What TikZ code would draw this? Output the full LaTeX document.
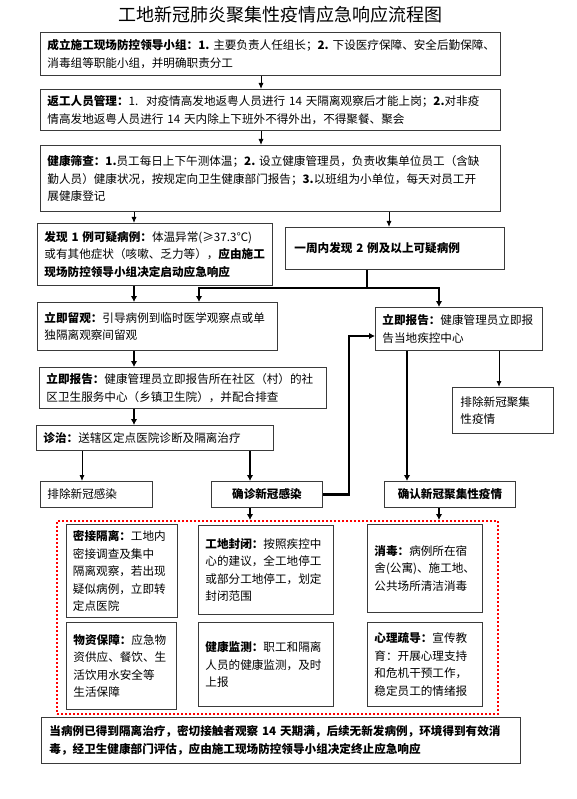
\documentclass[tikz,border=0pt]{standalone}
\usepackage{fontspec}
\setmainfont{Noto Sans CJK SC}
\usetikzlibrary{arrows.meta}
\definecolor{bordc}{HTML}{3A3A3A}
\tikzset{
  boxst/.style={draw=bordc,line width=0.9pt,inner xsep=7pt,inner ysep=2pt,align=left,
    font=\fontsize{11.6}{17.5}\selectfont},
  thinarr/.style={draw=black,line width=0.9pt,-{Latex[length=6pt,width=5pt]}},
  thkline/.style={draw=black,line width=2.3pt},
  thkarr/.style={draw=black,line width=2.3pt,-{Latex[length=6pt,width=6.5pt]}},
  dotzone/.style={draw=red,line width=2.2pt,dash pattern=on 2pt off 2pt}
}
\newcommand\bxn[7][]{%
  \pgfmathsetmacro\bxw{#5-#3}%
  \pgfmathsetmacro\bxh{#6-#4}%
  \pgfmathsetmacro\bxt{#5-#3-14}%
  \node[boxst,anchor=north west,minimum width=\bxw pt,minimum height=\bxh pt,text width=\bxt pt,#1] (#2) at (#3,#4) {#7};}
\begin{document}
\begin{tikzpicture}[x=1pt,y=-1pt]
\useasboundingbox[fill=white] (0,0) rectangle (577,799);
% title
\node (title) at (280,15) {\fontsize{18}{20}\selectfont 工地新冠肺炎聚集性疫情应急响应流程图};
% x positions
\coordinate (xa) at (261,0);
\coordinate (xb) at (134,0);
\coordinate (xc) at (389,0);
\coordinate (xd) at (367,0);
\coordinate (xe) at (199,0);
\coordinate (xf) at (439,0);
\coordinate (xg) at (499,0);
\coordinate (xh) at (407,0);
\coordinate (xi) at (82,0);
\coordinate (xj) at (250,0);
% boxes
\bxn{b1}{40}{32}{500}{75}{\textbf{成立施工现场防控领导小组：1.~}主要负责人任组长；\textbf{2.~}下设医疗保障、安全后勤保障、\\消毒组等职能小组，并明确职责分工}
\bxn{b2}{40}{89}{500}{130}{\textbf{返工人员管理：}1.~~对疫情高发地返粤人员进行~14~天隔离观察后才能上岗；\textbf{2.}对非疫\\情高发地返粤人员进行~14~天内除上下班外不得外出，不得聚餐、聚会}
\bxn{b3}{40}{145}{500}{211}{\textbf{健康筛查：1.}员工每日上下午测体温；\textbf{2.}~设立健康管理员，负责收集单位员工（含缺\\勤人员）健康状况，按规定向卫生健康部门报告；\textbf{3.}以班组为小单位，每天对员工开\\展健康登记}
\bxn{b4}{37}{223}{272}{285}{\textbf{发现~1~例可疑病例：}体温异常(≥37.3℃)\\或有其他症状（咳嗽、乏力等），\textbf{应由施工}\\\textbf{现场防控领导小组决定启动应急响应}}
\bxn[inner xsep=9pt]{b5}{285}{227}{500}{269}{\textbf{一周内发现~2~例及以上可疑病例}}
\bxn{b6}{37}{302}{277}{350}{\textbf{立即留观：}引导病例到临时医学观察点或单\\独隔离观察间留观}
\bxn{b7}{375}{307}{542}{350}{\textbf{立即报告：}健康管理员立即报\\告当地疾控中心}
\bxn{b8}{39}{367}{326}{408}{\textbf{立即报告：}健康管理员立即报告所在社区（村）的社\\区卫生服务中心（乡镇卫生院），并配合排查}
\bxn[inner xsep=8pt]{b9}{452}{387}{551}{433}{排除新冠聚集\\性疫情}
\bxn{b10}{36}{425}{273}{450}{\textbf{诊治：}送辖区定点医院诊断及隔离治疗}
\bxn{b11}{40}{481}{152}{507}{排除新冠感染}
\bxn[align=center]{b12}{211}{481}{322}{507}{\textbf{确诊新冠感染}}
\bxn[align=center]{b13}{384}{481}{515}{507}{\textbf{确认新冠聚集性疫情}}
% dotted zone
\node[dotzone,anchor=north west,minimum width=441pt,minimum height=193pt,inner sep=0pt] (dz) at (56,520) {};
% inner boxes
\bxn{ia}{65.5}{524}{177}{617}{\textbf{密接隔离：}工地内\\密接调查及集中\\隔离观察，若出现\\疑似病例，立即转\\定点医院}
\bxn{ib}{198}{525}{333}{614}{\textbf{工地封闭：}按照疾控中\\心的建议，全工地停工\\或部分工地停工，划定\\封闭范围}
\bxn{ic}{367}{524}{482}{612}{\textbf{消毒：}病例所在宿\\舍(公寓)、施工地、\\公共场所清洁消毒}
\bxn{id}{66}{622}{176}{709}{\textbf{物资保障：}应急物\\资供应、餐饮、生\\活饮用水安全等\\生活保障}
\bxn{ie}{198}{622}{333}{706}{\textbf{健康监测：}职工和隔离\\人员的健康监测，及时\\上报}
\bxn{if}{367}{622}{482}{706}{\textbf{心理疏导：}宣传教\\育：开展心理支持\\和危机干预工作，\\稳定员工的情绪报}
\bxn[inner xsep=8pt]{fin}{41}{717}{518}{763}{\textbf{当病例已得到隔离治疗，密切接触者观察~14~天期满，后续无新发病例，环境得到有效消}\\\textbf{毒，经卫生健康部门评估，应由施工现场防控领导小组决定终止应急响应}}
% connectors
\draw[thinarr] (b1.south -| xa) -- (b2.north -| xa);
\draw[thinarr] (b2.south -| xa) -- (b3.north -| xa);
\draw[thinarr] (b3.south -| xb) -- (b4.north -| xb);
\draw[thinarr] (b3.south -| xc) -- (b5.north -| xc);
\coordinate (j1) at (367,288);
\draw[thkline] (b5.south -| xd) -- (j1);
\draw[thkarr] (j1) -| (b6.north -| xe);
\draw[thkarr] (j1) -| (b7.north -| xf);
\draw[thkarr] (b4.south -| xb) -- (b6.north -| xb);
\draw[thkarr] (b6.south -| xb) -- (b8.north -| xb);
\draw[thkarr] (b8.south -| xb) -- (b10.north -| xb);
\draw[thinarr] (b10.south -| xi) -- (b11.north -| xi);
\draw[thkarr] (b10.south -| xj) -- (b12.north -| xj);
\draw[thinarr] (b7.south -| xg) -- (b9.north -| xg);
\draw[thkarr] (b7.south -| xh) -- (b13.north -| xh);
\coordinate (c1) at (349,336);
\draw[thkarr] (b12.east) -| (c1) -- (c1 -| b7.west);
\draw[thkarr] (b12.south -| xj) -- (dz.north -| xj);
\draw[thkarr] (b13.south -| xf) -- (dz.north -| xf);
\end{tikzpicture}
\end{document}
